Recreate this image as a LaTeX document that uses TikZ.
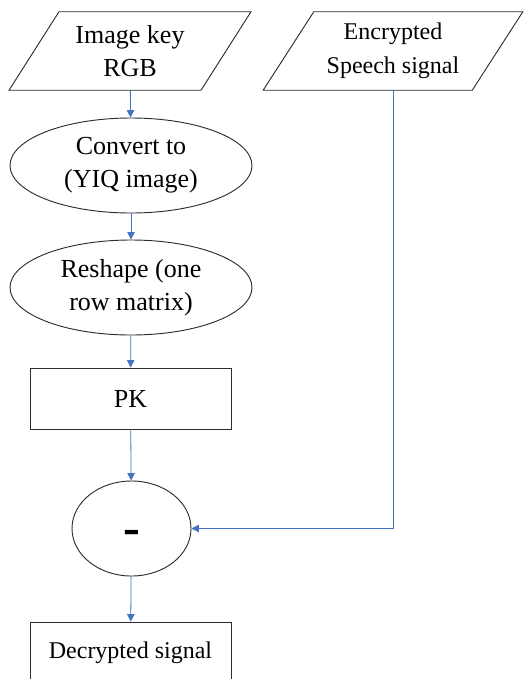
\documentclass[tikz,border=0pt]{standalone}
\usepackage{fontspec}
\setmainfont{Liberation Serif}
\usepackage{tikz}
\usetikzlibrary{shapes.geometric, arrows.meta, positioning}
\definecolor{flowblue}{RGB}{68,114,196}
\definecolor{edgegray}{RGB}{45,45,45}

\tikzset{
  inbox/.style={rectangle, inner sep=0pt, minimum height=58.5pt, align=center},
  outline/.style={draw=edgegray, line width=0.7pt},
  procoval/.style={ellipse, outline, inner sep=0pt,
    minimum width=181.5pt, minimum height=71.25pt, align=center},
  plainbox/.style={rectangle, outline, inner sep=0pt,
    minimum width=150.75pt, minimum height=45.75pt, align=center},
  link/.style={flowblue, line width=0.6pt, -{Triangle[length=5.5pt, width=5.5pt]}}
}

\begin{document}
\begin{tikzpicture}[x=0.75pt, y=-0.75pt, font=\fontsize{19.5}{24.5}\selectfont]
    \useasboundingbox (0,0) rectangle (524,679);

    % inputs (parallelograms drawn around the text nodes)
    \node[inbox, minimum width=143.6pt] (key) at (130,51) {Image key\\RGB};
    \draw[outline] ([xshift=18.75pt]key.north west) -- ([xshift=18.75pt]key.north east)
        -- ([xshift=-18.75pt]key.south east) -- ([xshift=-18.75pt]key.south west) -- cycle;

    \node[inbox, minimum width=156.4pt, font=\fontsize{18}{25.5}\selectfont] (speech) at (393,51) {Encrypted\\Speech signal};
    \draw[outline] ([xshift=19pt]speech.north west) -- ([xshift=19pt]speech.north east)
        -- ([xshift=-19pt]speech.south east) -- ([xshift=-19pt]speech.south west) -- cycle;

    % key processing
    \node[procoval] (yiq) at (131,165.5) {Convert to\\(YIQ image)};
    \node[procoval] (reshape) at (131,287.5) {Reshape (one\\row matrix)};
    \node[plainbox] (pk) at (130.5,398.5) {PK};

    % subtraction
    \node[ellipse, outline, minimum width=89.25pt, minimum height=71.25pt,
          text height=24pt, text depth=0pt,
          font=\fontsize{38}{38}\selectfont\bfseries] (minus) at (131.5,528.5) {-};
    \node[plainbox, font=\fontsize{18}{22}\selectfont] (out) at (130.5,652.5) {Decrypted signal};

    \draw[link] (key) -- (yiq);
    \draw[link] (yiq) -- (reshape);
    \draw[link] (reshape) -- (pk);
    \draw[link] (pk) -- (minus);
    \draw[link] (minus) -- (out);
    \draw[link] (speech.south) |- (minus.east);
\end{tikzpicture}
\end{document}
